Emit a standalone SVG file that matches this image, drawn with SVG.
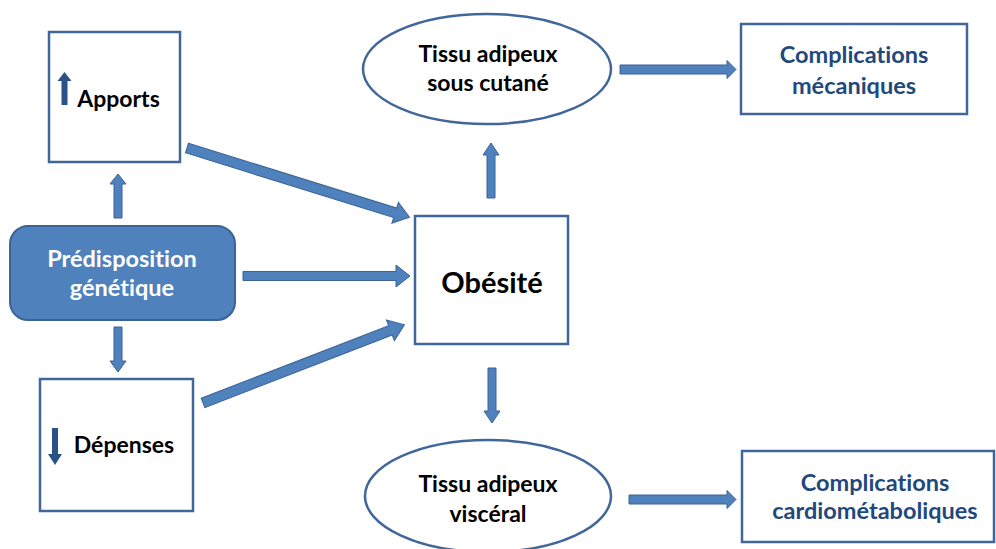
<svg xmlns="http://www.w3.org/2000/svg" width="996" height="549" viewBox="0 0 996 549">
<style>
.box{fill:#fff;stroke:#41679A;stroke-width:2.5}
.arr{fill:#4F81BD;stroke:#3A6396;stroke-width:1}
.sm{fill:#2A5287}
text{font-family:Lato,"Open Sans","Liberation Sans",sans-serif;font-weight:bold;text-anchor:middle;font-variant-ligatures:none}
.t{font-size:23px;fill:#000}
.w{font-size:23.5px;fill:#fff}
.c{font-size:23.5px;fill:#1F497D}
</style>
<rect width="996" height="549" fill="#fff"/>
<g id="connectors">
<polygon class="arr" transform="translate(118,218) rotate(-90)" points="0,-4 34,-4 34,-8 44,0 34,8 34,4 0,4"/>
<polygon class="arr" transform="translate(118,327) rotate(90)" points="0,-4 34,-4 34,-8 45,0 34,8 34,4 0,4"/>
<polygon class="arr" transform="translate(243,276)" points="0,-4.5 153,-4.5 153,-11 167,0 153,11 153,4.5 0,4.5"/>
<polygon class="arr" transform="translate(187,148) rotate(17.3)" points="0,-5 218,-5 218,-11 233,0 218,11 218,5 0,5"/>
<polygon class="arr" transform="translate(203,403) rotate(-21.2)" points="0,-5 201,-5 201,-11 216,0 201,11 201,5 0,5"/>
<polygon class="arr" transform="translate(491,198) rotate(-90)" points="0,-4 43,-4 43,-8 55,0 43,8 43,4 0,4"/>
<polygon class="arr" transform="translate(492,368) rotate(90)" points="0,-4 43,-4 43,-8 55,0 43,8 43,4 0,4"/>
<polygon class="arr" transform="translate(620,69.5)" points="0,-4.5 107,-4.5 107,-9 116,0 107,9 107,4.5 0,4.5"/>
<polygon class="arr" transform="translate(629,499.5)" points="0,-4.5 98,-4.5 98,-9 107,0 98,9 98,4.5 0,4.5"/>
</g>
<g id="apports">
<rect class="box" x="49" y="32" width="131" height="130"/>
<polygon class="sm" points="61.5,105 61.5,81 57.5,81 64.5,72 71.5,81 67.5,81 67.5,105"/>
<text class="t" x="118.5" y="107">Apports</text>
</g>
<g id="predisposition">
<rect x="10" y="226" width="225" height="94" rx="18" fill="#4F81BD" stroke="#3A6396" stroke-width="2"/>
<text class="w" x="122" y="267">Prédisposition</text>
<text class="w" x="122" y="296">génétique</text>
</g>
<g id="depenses">
<rect class="box" x="40" y="379" width="153" height="132"/>
<polygon class="sm" points="52,428 58,428 58,454 62,454 55,465 48,454 52,454"/>
<text class="t" x="124" y="453">Dépenses</text>
</g>
<g id="obesite">
<rect class="box" x="415" y="216" width="153" height="128"/>
<text x="492" y="293" style="font-size:29px;fill:#000">Obésité</text>
</g>
<g id="tissu-sous-cutane">
<ellipse class="box" cx="487" cy="69" rx="124" ry="55"/>
<text class="t" x="488" y="62">Tissu adipeux</text>
<text class="t" x="488" y="91">sous cutané</text>
</g>
<g id="tissu-visceral">
<ellipse class="box" cx="488" cy="496" rx="123" ry="56"/>
<text class="t" x="488" y="492">Tissu adipeux</text>
<text class="t" x="488" y="522">viscéral</text>
</g>
<g id="complications-mecaniques">
<rect class="box" x="741" y="24" width="226" height="90"/>
<text class="c" x="854" y="63">Complications</text>
<text class="c" x="854" y="94">mécaniques</text>
</g>
<g id="complications-cardio">
<rect class="box" x="742" y="451" width="252" height="91"/>
<text class="c" x="875" y="491">Complications</text>
<text class="c" x="875" y="519">cardiométaboliques</text>
</g>
</svg>
